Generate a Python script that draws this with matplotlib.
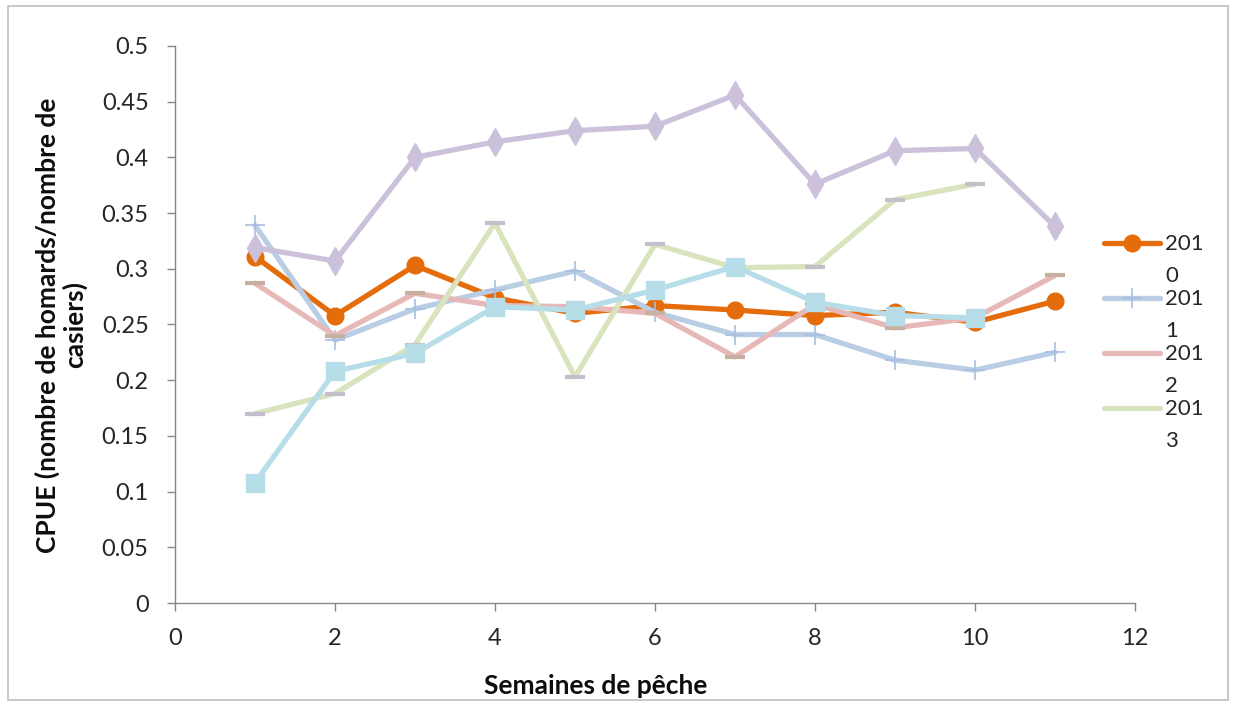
import matplotlib
matplotlib.use("Agg")
import matplotlib.pyplot as plt
from matplotlib.lines import Line2D
from matplotlib.patches import Rectangle
from matplotlib.ticker import MultipleLocator

plt.rcParams['font.family'] = ['Lato', 'DejaVu Sans']

weeks = list(range(1, 12))

cpue_2010 = [0.311, 0.258, 0.303, 0.274, 0.260, 0.267, 0.263, 0.258, 0.261, 0.252, 0.271]
cpue_2011 = [0.339, 0.236, 0.264, 0.281, 0.298, 0.261, 0.241, 0.241, 0.218, 0.209, 0.225]
cpue_2012 = [0.287, 0.240, 0.278, 0.267, 0.266, 0.260, 0.221, 0.268, 0.247, 0.256, 0.294]
cpue_2013 = [0.170, 0.188, 0.232, 0.341, 0.203, 0.322, 0.301, 0.302, 0.362, 0.376]
cpue_2014 = [0.319, 0.307, 0.400, 0.414, 0.424, 0.428, 0.456, 0.376, 0.406, 0.408, 0.338]
cpue_2015 = [0.108, 0.208, 0.224, 0.266, 0.263, 0.281, 0.302, 0.270, 0.258, 0.256]

legend_labels = ['201\n0', '201\n1', '201\n2', '201\n3']

W, H = 1235, 704
fig = plt.figure(figsize=(W / 100, H / 100), dpi=100)
ax = fig.add_axes([175 / W, 1 - 603 / H, 960 / W, 557 / H])

# (values, colour, line width, marker kwargs)
series = [
    (cpue_2010, '#E46C0A', 3.8, dict(marker='o', ms=12, mfc='#E46C0A', mec='#E46C0A')),
    (cpue_2011, '#B9CDE5', 3.8, dict(marker='+', ms=15, mew=1.2, mec='#A8C0E0')),
    (cpue_2012, '#E6B9B8', 3.8, dict(marker='_', ms=14, mew=3, mec='#C8B0A0')),
    (cpue_2013, '#D7E4BD', 3.8, dict(marker='_', ms=14, mew=3, mec='#C4BFCB')),
    (cpue_2014, '#CCC1DA', 3.8, dict(marker='d', ms=14, mfc='#CCC1DA', mec='#CCC1DA')),
    (cpue_2015, '#B7DEE8', 3.8, dict(marker='s', ms=13, mfc='#B7DEE8', mec='#B7DEE8')),
]

for vals, col, lw, mk in series:
    ax.plot(weeks[:len(vals)], vals, color=col, lw=lw, solid_joinstyle='round',
            solid_capstyle='round', **mk)

ax.set_xlim(0, 12)
ax.set_ylim(0, 0.5)
ax.xaxis.set_major_locator(MultipleLocator(2))
ax.yaxis.set_major_locator(MultipleLocator(0.05))
ax.yaxis.set_major_formatter(plt.FuncFormatter(
    lambda v, p: ('%.2f' % v).rstrip('0').rstrip('.') if v > 1e-9 else '0'))

for s in ['top', 'right']:
    ax.spines[s].set_visible(False)
for s in ['left', 'bottom']:
    ax.spines[s].set_color('#868686')
    ax.spines[s].set_linewidth(1)
ax.tick_params(direction='out', length=6, width=1, color='#868686',
               labelsize=17, labelcolor='#262626')
ax.tick_params(axis='y', pad=13)
ax.tick_params(axis='x', pad=12)

fig.text(596 / W, 1 - 686 / H, 'Semaines de pêche', fontsize=19, fontweight='bold',
         ha='center', va='center', color='#0d0d0d')
fig.text(61 / W, 1 - 325 / H, 'CPUE (nombre de homards/nombre de\ncasiers)', fontsize=19,
         fontweight='bold', rotation=90, ha='center', va='center',
         multialignment='center', linespacing=1.1, color='#0d0d0d')

# legend on the right, handle next to first line of each wrapped label
legend_rows = [243, 298, 353, 408]
for (vals, col, lw, mk), lab, y in zip(series[:4], legend_labels, legend_rows):
    yf = 1 - y / H
    fig.add_artist(Line2D([1104 / W, 1160 / W], [yf, yf], transform=fig.transFigure,
                          color=col, lw=lw, solid_capstyle='round'))
    m = dict(mk)
    if m['marker'] == '_':
        m['marker'] = 'None'
    fig.add_artist(Line2D([1132 / W], [yf], transform=fig.transFigure,
                          color=col, lw=0, **m))
    for k, part in enumerate(lab.split('\n')):
        fig.text(1165 / W, 1 - (y + 1 + 32 * k) / H, part, fontsize=16,
                 color='#262626', va='center', ha='left')

fig.add_artist(Rectangle((8 / W, 4 / H), 1220 / W, 694 / H, transform=fig.transFigure,
                         fill=False, ec='#BFBFBF', lw=1.2))

fig.savefig('out.png', dpi=100)
